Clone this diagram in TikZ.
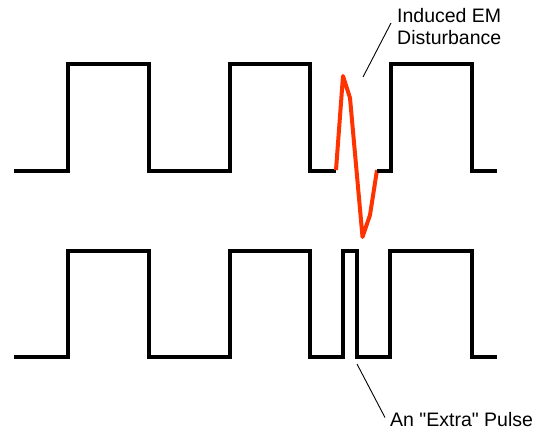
\documentclass[tikz,border=0pt]{standalone}
\usepackage{fontspec}
\setmainfont{Liberation Sans}[Ligatures=TeXOff]
\begin{document}
\begin{tikzpicture}[x=1pt,y=-1pt,
  wave/.style={line width=4pt, black},
  noise/.style={line width=4pt, color=emred, line join=round},
  leader/.style={line width=0.9pt, black},
  lbl/.style={inner sep=0pt, align=left, font=\fontsize{19.5}{22.5}\selectfont}]
\definecolor{emred}{RGB}{255,51,0}
\useasboundingbox (0,0) rectangle (540,431);
% top waveform
\draw[wave] (14,171) -- (68,171) -- (68,64) -- (149,64) -- (149,171) -- (230,171) -- (230,64) -- (310,64) -- (310,171) -- (336,171);
\draw[noise] (336,170) -- (343,76) -- (350,98) -- (362.5,237) -- (370,215) -- (377,170);
\draw[wave] (377,171) -- (391,171) -- (391,64) -- (472,64) -- (472,171) -- (497,171);
% bottom waveform
\draw[wave] (14,357) -- (68,357) -- (68,251) -- (149,251) -- (149,357) -- (230,357) -- (230,251) -- (310,251) -- (310,357) -- (343,357) -- (343,251) -- (357,251) -- (357,357) -- (390,357) -- (390,251) -- (472,251) -- (472,357) -- (497,357);
% labels
\node[lbl, anchor=north west] (em) at (397,8) {Induced EM\\Disturbance};
\coordinate (emtip) at (363,77);
\draw[leader] (emtip) -- ([shift={(-6,15)}]em.north west);
\node[lbl, anchor=base west] (pulse) at (390,426.5) {An "Extra" Pulse};
\coordinate (pulsetip) at (357,364);
\draw[leader] (pulsetip) -- ([shift={(-5,-9)}]pulse.base west);
\end{tikzpicture}
\end{document}
